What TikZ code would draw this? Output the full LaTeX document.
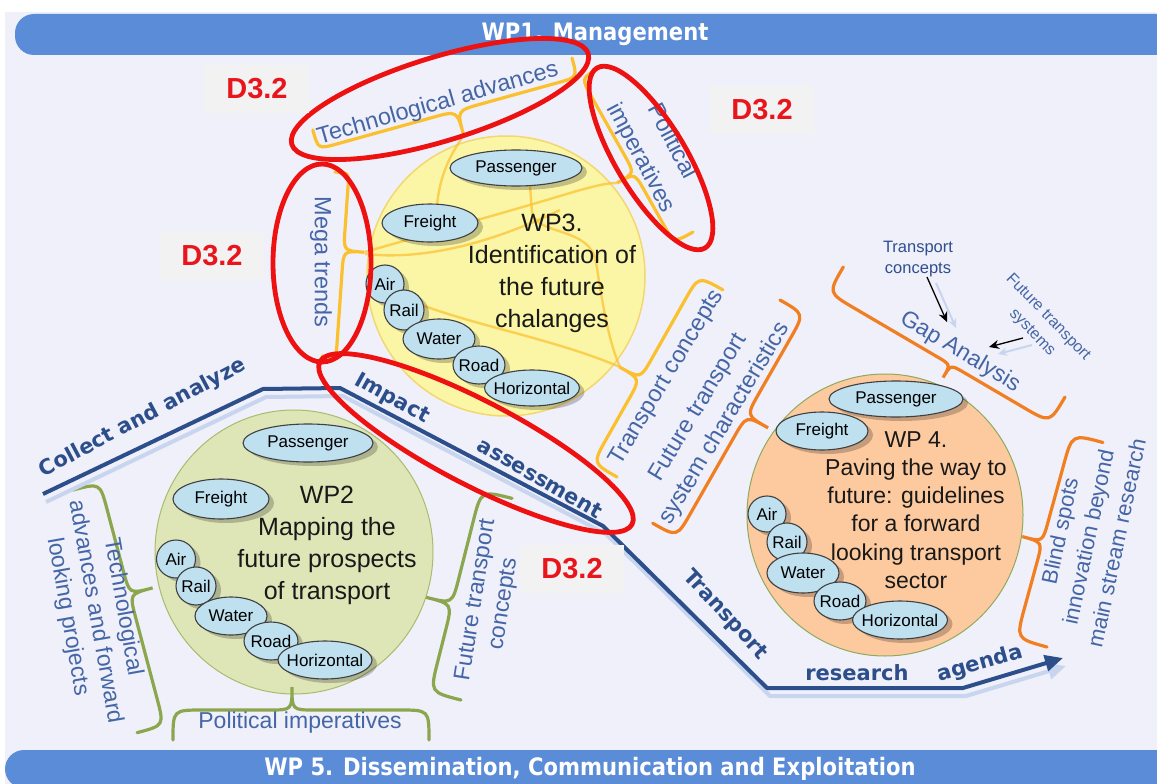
\documentclass[tikz,border=0pt]{standalone}
\usepackage{fontspec}
\setmainfont{Liberation Sans}
\newfontfamily\pathfont{DejaVu Sans}
\newfontfamily\barfont[FakeStretch=0.88]{DejaVu Sans}
\usetikzlibrary{shapes.geometric,shadows,arrows.meta}

\definecolor{bgcol}{HTML}{EFF0FA}
\definecolor{barblue}{HTML}{5A8CD7}
\definecolor{labblue}{HTML}{4566A6}
\definecolor{darklab}{HTML}{2F4E8E}
\definecolor{pathblue}{HTML}{2C4E8A}
\definecolor{pathshade}{HTML}{C8D5EE}
\definecolor{ringred}{HTML}{EE1111}
\definecolor{tagred}{HTML}{E8161C}
\definecolor{taggray}{HTML}{F2F2F2}
\definecolor{ylw}{HTML}{FBC02D}
\definecolor{org}{HTML}{F27E22}
\definecolor{grn}{HTML}{8CA64E}
\definecolor{wptwofill}{HTML}{DEE6B8}
\definecolor{wptwoedge}{HTML}{A9BB6E}
\definecolor{wpthreefill}{HTML}{FBF6A6}
\definecolor{wpthreeedge}{HTML}{F3D76F}
\definecolor{wpfourfill}{HTML}{FDCA9F}
\definecolor{wpfouredge}{HTML}{8FAA5B}
\definecolor{modefill}{HTML}{BEE0EF}

% curly brace: style, first end, angle, length, tip position, spine offset, tip offset
\newcommand\drawbrace[7]{%
  \pgfmathsetmacro\brq{#7-#6}%
  \draw[#1, shift={#2}, rotate=#3]
    (0,0) .. controls (0,-#6) .. (#6,-#6)
    -- ({#5-\brq},-#6) .. controls (#5,-#6) .. (#5,-#7)
    .. controls (#5,-#6) .. ({#5+\brq},-#6)
    -- ({#4-#6},-#6) .. controls (#4,-#6) .. (#4,0);}

% transport mode oval: name, centre, width, height, text
\newcommand\modeoval[5]{%
  \node[modeshape, minimum width=#3pt, minimum height=#4pt] (#1) at #2 {};
  \node[modetext] (#1-t) at (#1) {#5};}

\tikzset{
  barshape/.style={rectangle, rounded corners=19pt, fill=barblue, text=white,
    font=\barfont\bfseries\fontsize{24}{28}\selectfont, inner sep=0pt},
  wpcircle/.style={ellipse, inner sep=0pt},
  lab/.style={text=labblue, font=\fontsize{23.5}{28}\selectfont, align=center, inner sep=0pt},
  pathlab/.style={text=pathblue, font=\pathfont\bfseries\fontsize{21}{25}\selectfont, inner sep=0pt},
  wptext/.style={text=black!90, align=center, inner sep=0pt},
  modeshape/.style={ellipse, draw=black!75, line width=1.1pt, fill=modefill, inner sep=0pt,
    drop shadow={shadow xshift=5pt, shadow yshift=-4pt, opacity=0.22, fill=black}},
  modetext/.style={font=\fontsize{17}{20}\selectfont, inner sep=0pt},
  ring/.style={ellipse, draw=ringred, line width=4.8pt, inner sep=0pt},
  tagbox/.style={fill=taggray, minimum width=104pt, minimum height=48pt, text=tagred,
    font=\bfseries\fontsize{29}{32}\selectfont, inner sep=0pt},
  ybrace/.style={draw=ylw, line width=3.2pt, line cap=round},
  obrace/.style={draw=org, line width=3.2pt, line cap=round},
  gbrace/.style={draw=grn, line width=3.2pt, line cap=round},
}

\begin{document}
\begin{tikzpicture}[x=1pt,y=-1pt]
\useasboundingbox (0,0) rectangle (1157,784);
\fill[white] (0,0) rectangle (1157,784);
\fill[bgcol] (5,12) rectangle (1157,784);

% work package bars
\node[barshape, minimum width=1160pt, minimum height=41pt] (wp1) at (595,34.5) {WP1. Management};
\node[barshape, minimum width=1170pt, minimum height=38pt] (wp5) at (590,769) {WP 5. Dissemination, Communication and Exploitation};

% work package circles
\node[wpcircle, fill=wptwofill, draw=wptwoedge, line width=1pt, minimum width=278pt, minimum height=284pt] (wp2c) at (294,552) {};
\node[wpcircle, fill=wpthreefill, draw=wpthreeedge, line width=1.5pt, minimum width=278pt, minimum height=280pt] (wp3c) at (506,276) {};
\node[wpcircle, fill=wpfourfill, draw=wpfouredge, line width=1pt, minimum width=276pt, minimum height=282pt] (wp4c) at (885,515) {};

% threads running across WP3
\begin{scope}[draw=ylw, line width=2.4pt, opacity=0.7]
  \draw (464,135) .. controls (450,155) and (440,175) .. (437,205);
  \draw (530,186) -- (532,212) .. controls (536,236) and (590,226) .. (596,262) .. controls (602,300) and (608,340) .. (620,367);
  \draw (365,252) .. controls (420,236) and (500,214) .. (560,196) .. controls (590,187) and (605,183) .. (617,183);
  \draw (365,254) .. controls (420,260) and (485,246) .. (560,210);
  \draw (392,292) .. controls (450,322) and (545,335) .. (620,367);
\end{scope}

% braces around WP3
\drawbrace{ybrace}{(572,58)}{-164.5}{269}{125}{20}{45}
\drawbrace{ybrace}{(335,172)}{-94}{184.5}{78}{14}{35}
\drawbrace{ybrace}{(693,232)}{119.4}{189}{80}{22}{42}
\drawbrace{ybrace}{(617,477)}{60.5}{215}{97}{28}{52}
% braces around WP2
\drawbrace{gbrace}{(173,740)}{0}{256}{119}{30}{53}
\drawbrace{gbrace}{(73,490)}{-75.2}{251}{115}{28}{52}
\drawbrace{gbrace}{(461,700)}{75.8}{208}{91}{32}{59}
% braces around WP4
\drawbrace{obrace}{(1065,397)}{149.6}{257}{115}{30}{45}
\drawbrace{obrace}{(780,300)}{-119.7}{257}{117}{28}{53}
\drawbrace{obrace}{(1047,647)}{74.7}{212}{100}{32}{53}

% transport modes, WP3
\modeoval{pthree}{(516,168)}{132}{36}{Passenger}
\modeoval{fthree}{(430,223)}{96}{38}{Freight}
\modeoval{athree}{(385,284)}{38}{38}{Air}
\modeoval{rthree}{(404,310)}{40}{40}{Rail}
\modeoval{wthree}{(439,339)}{72}{40}{Water}
\modeoval{dthree}{(479,365)}{52}{38}{Road}
\modeoval{hthree}{(532,388)}{95}{36}{Horizontal}
% transport modes, WP2
\modeoval{ptwo}{(308,443)}{130}{38}{Passenger}
\modeoval{ftwo}{(221,499)}{96}{40}{Freight}
\modeoval{atwo}{(176,559)}{39}{38}{Air}
\modeoval{rtwo}{(196,586)}{40}{38}{Rail}
\modeoval{wtwo}{(231,616)}{72}{38}{Water}
\modeoval{dtwo}{(271,641)}{54}{38}{Road}
\modeoval{htwo}{(325,660)}{94}{38}{Horizontal}
% transport modes, WP4
\modeoval{pfour}{(896,399)}{134}{36}{Passenger}
\modeoval{ffour}{(822,431)}{92}{38}{Freight}
\modeoval{afour}{(767,514)}{38}{36}{Air}
\modeoval{rfour}{(787,542)}{40}{38}{Rail}
\modeoval{wfour}{(803,573)}{72}{40}{Water}
\modeoval{dfour}{(840,601)}{52}{38}{Road}
\modeoval{hfour}{(900,620)}{95}{38}{Horizontal}

% work package titles
\node[wptext, font=\fontsize{25}{32}\selectfont] (wp3t) at (552,273) {WP3.\\Identification of\\the future\\chalanges};
\node[wptext, font=\fontsize{25}{32}\selectfont] (wp2t) at (327,545) {WP2\\Mapping the\\future prospects\\of transport};
\node[wptext, font=\fontsize{23}{28.3}\selectfont] (wp4t) at (916,510) {WP 4.\\Paving the way to\\future: guidelines\\for a forward\\looking transport\\sector};

% brace labels
\node[lab, rotate=16] (techadv) at (438,104) {Technological advances};
\node[lab, rotate=-90] (mega) at (321,262) {Mega trends};
\node[lab, rotate=-62, font=\fontsize{23.5}{35}\selectfont] (polthree) at (656,150) {Political\\imperatives};
\node[lab, rotate=59] (tcthree) at (667,378) {Transport concepts};
\node[lab, rotate=59, font=\fontsize{23.5}{31}\selectfont] (futsys) at (712,416) {Future transport\\system characteristics};
\node[lab, rotate=-31, font=\fontsize{23}{28}\selectfont] (gap) at (960,352) {Gap Analysis};
\node[lab, text=darklab, font=\fontsize{16.5}{21}\selectfont] (tcsmall) at (918,259) {Transport\\concepts};
\node[lab, rotate=-46, font=\fontsize{16}{22}\selectfont] (ftsmall) at (1040,325) {Future transport\\systems};
\node[lab, rotate=78, font=\fontsize{22}{29}\selectfont] (blind) at (1088,537) {Blind spots\\innovation beyond\\main stream research};
\node[lab, rotate=-80, font=\fontsize{23}{28}\selectfont] (techtwo) at (95,612) {Technological\\advances and forward\\looking projects};
\node[lab, rotate=81, font=\fontsize{23}{28}\selectfont] (fttwo) at (490,602) {Future transport\\concepts};
\node[lab, font=\fontsize{23}{28}\selectfont] (poltwo) at (300,723) {Political imperatives};

% gap analysis inputs
\coordinate (gaA) at (927,277);
\coordinate (gaAe) at (947,322);
\coordinate (gaB) at (1023,338);
\coordinate (gaBe) at (989,347);
\draw[pathshade, line width=2pt, -{Stealth[length=9pt,width=8pt]}] ([shift={(9,6)}]gaA) -- ([shift={(9,6)}]gaAe);
\draw[pathshade, line width=2pt, -{Stealth[length=9pt,width=8pt]}] ([shift={(9,7)}]gaB) -- ([shift={(9,7)}]gaBe);
\draw[black, line width=1.3pt, -{Stealth[length=10pt,width=9pt]}] (gaA) -- (gaAe);
\draw[black, line width=1.3pt, -{Stealth[length=10pt,width=9pt]}] (gaB) -- (gaBe);

% project flow line
\coordinate (fa) at (43,494);
\coordinate (fb) at (263,389);
\coordinate (fc) at (340,388);
\coordinate (fd) at (603,526);
\coordinate (fe) at (767,688);
\coordinate (ff) at (963,688);
\coordinate (fg) at (1063,658);
\draw[pathshade, line width=4pt, line join=round, -{Triangle[length=18pt,width=16pt]}]
  ([shift={(3,8)}]fa) -- ([shift={(3,8)}]fb) -- ([shift={(3,8)}]fc) -- ([shift={(3,8)}]fd)
  -- ([shift={(3,8)}]fe) -- ([shift={(3,8)}]ff) -- ([shift={(3,8)}]fg);
\draw[pathblue, line width=4pt, line join=round, -{Triangle[length=18pt,width=16pt]}]
  (fa) -- (fb) -- (fc) -- (fd) -- (fe) -- (ff) -- (fg);

\node[pathlab, rotate=28] (collect) at (143,418) {Collect and analyze};
\node[pathlab, rotate=-29] (impact) at (392,399) {Impact};
\node[pathlab, rotate=-30] (assess) at (540,478) {assessment};
\node[pathlab, rotate=-47] (transp) at (725,615) {Transport};
\node[pathlab] (research) at (857,673) {research};
\node[pathlab, rotate=16] (agenda) at (980,664) {agenda};

% deliverable highlights
\node[ring, minimum width=310pt, minimum height=84pt, rotate=17] (ringtech) at (440,99) {};
\node[ring, minimum width=210pt, minimum height=70pt, rotate=-59] (ringpol) at (651,158) {};
\node[ring, minimum width=98pt, minimum height=198pt] (ringmega) at (322,263) {};
\node[ring, minimum width=352pt, minimum height=84pt, rotate=-27.5] (ringimp) at (476,443) {};

\node[tagbox] (tagA) at (257,89) {D3.2};
\node[tagbox] (tagB) at (762,110) {D3.2};
\node[tagbox] (tagC) at (212,256) {D3.2};
\node[tagbox] (tagD) at (572,569) {D3.2};
\end{tikzpicture}
\end{document}
